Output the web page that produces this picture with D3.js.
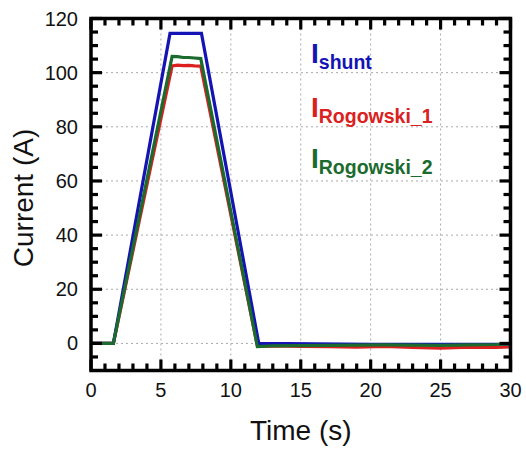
<!DOCTYPE html>
<html>
<head>
<meta charset="utf-8">
<script src="https://cdn.jsdelivr.net/npm/d3@7"></script>
</head>
<body style="margin:0">
<svg id="chart" width="526" height="453" font-family="Liberation Sans, Arial, sans-serif"></svg>
<script>
// Current waveforms: shunt reference vs. two Rogowski coils
const shuntTime = [0, 1.6, 5.65, 7.9, 12.0, 16, 20, 24, 28, 30];
const shuntCurrent = [0, 0, 114.5, 114.5, 0, -0.2, -0.3, -0.3, -0.3, -0.3];

const rogowski1Time = [0, 1.6, 5.8, 6.2, 6.6, 7.0, 7.4, 7.85, 11.9, 13, 15, 17, 19, 21, 23, 25, 27, 29, 30];
const rogowski1Current = [0, 0, 102.5, 102.8, 102.6, 102.7, 102.5, 102.4, -1.0, -0.9, -1.1, -1.2, -1.4, -1.1, -1.5, -1.7, -1.4, -1.5, -1.3];

const rogowski2Time = [0, 1.6, 5.8, 6.2, 6.6, 7.0, 7.4, 7.85, 11.9, 13, 15, 17, 19, 21, 23, 25, 27, 29, 30];
const rogowski2Current = [0, 0, 106.0, 105.9, 105.6, 105.6, 105.4, 105.2, -1.2, -0.9, -0.8, -0.7, -0.6, -0.5, -0.6, -0.7, -0.5, -0.4, -0.2];

const xMajorTicks = [0, 5, 10, 15, 20, 25, 30];
const yMajorTicks = [0, 20, 40, 60, 80, 100, 120];
const xAllTicks = d3.range(0, 31, 1);
const yAllTicks = d3.range(-5, 121, 5);

const colors = { shunt: "#1414b4", rog1: "#dc2020", rog2: "#1b6b2e" };

const svg = d3.select("#chart");
const plot = { left: 91, right: 510.5, top: 18.5, bottom: 370.5 };

const x = d3.scaleLinear().domain([0, 30]).range([plot.left, plot.right]);
const y = d3.scaleLinear().domain([-10, 120]).range([plot.bottom, plot.top]);

// dotted grid at major ticks
const grid = svg.append("g");
xMajorTicks.filter(d => d > 0 && d < 30).forEach(d => {
  grid.append("line").attr("x1", x(d)).attr("x2", x(d))
    .attr("y1", plot.top).attr("y2", plot.bottom)
    .attr("stroke", "#aaa").attr("stroke-width", 1).attr("stroke-dasharray", "2,3");
});
yMajorTicks.filter(d => d < 120).forEach(d => {
  grid.append("line").attr("y1", y(d)).attr("y2", y(d))
    .attr("x1", plot.left).attr("x2", plot.right)
    .attr("stroke", "#aaa").attr("stroke-width", 1).attr("stroke-dasharray", "2,3");
});

// series lines
const series = [
  { t: rogowski1Time, v: rogowski1Current, c: colors.rog1 },
  { t: shuntTime, v: shuntCurrent, c: colors.shunt },
  { t: rogowski2Time, v: rogowski2Current, c: colors.rog2 }
];
const line = d3.line().x(d => x(d[0])).y(d => y(d[1]));
series.forEach(s => {
  svg.append("path")
    .datum(s.t.map((t, i) => [t, s.v[i]]))
    .attr("fill", "none")
    .attr("stroke", s.c)
    .attr("stroke-width", 3.2)
    .attr("d", line);
});

// frame
svg.append("rect")
  .attr("x", plot.left).attr("y", plot.top)
  .attr("width", plot.right - plot.left).attr("height", plot.bottom - plot.top)
  .attr("fill", "none").attr("stroke", "#000").attr("stroke-width", 3.5);

// inward tick marks drawn as small filled bars on all four sides
const majorLen = 11, minorLen = 7, tickW = 3.2;
const tickG = svg.append("g").attr("fill", "#000");
const xLen = d => (d % 5 === 0 ? majorLen : minorLen);
const yLen = d => (d % 20 === 0 ? majorLen : minorLen);
tickG.selectAll("rect.xb").data(xAllTicks).join("rect").attr("class", "xb")
  .attr("x", d => x(d) - tickW / 2).attr("y", d => plot.bottom - xLen(d))
  .attr("width", tickW).attr("height", d => xLen(d));
tickG.selectAll("rect.xt").data(xAllTicks).join("rect").attr("class", "xt")
  .attr("x", d => x(d) - tickW / 2).attr("y", plot.top)
  .attr("width", tickW).attr("height", d => xLen(d));
tickG.selectAll("rect.yl").data(yAllTicks).join("rect").attr("class", "yl")
  .attr("x", plot.left).attr("y", d => y(d) - tickW / 2)
  .attr("width", d => yLen(d)).attr("height", tickW);
tickG.selectAll("rect.yr").data(yAllTicks).join("rect").attr("class", "yr")
  .attr("x", d => plot.right - yLen(d)).attr("y", d => y(d) - tickW / 2)
  .attr("width", d => yLen(d)).attr("height", tickW);

// tick labels
svg.append("g").selectAll("text").data(xMajorTicks).join("text")
  .attr("x", d => x(d)).attr("y", 397)
  .attr("text-anchor", "middle").attr("font-size", 20).attr("fill", "#111")
  .text(d => d);
svg.append("g").selectAll("text").data(yMajorTicks).join("text")
  .attr("x", 78).attr("y", d => y(d) + 7)
  .attr("text-anchor", "end").attr("font-size", 20).attr("fill", "#111")
  .text(d => d);

// axis titles
svg.append("text")
  .attr("x", (plot.left + plot.right) / 2).attr("y", 440)
  .attr("text-anchor", "middle").attr("font-size", 28).attr("fill", "#111")
  .text("Time (s)");
svg.append("text")
  .attr("transform", "translate(33,198) rotate(-90)")
  .attr("text-anchor", "middle").attr("font-size", 28).attr("fill", "#111")
  .text("Current (A)");

// legend labels with subscripts
const legend = [
  { main: "I", sub: "shunt", c: colors.shunt, y: 63 },
  { main: "I", sub: "Rogowski_1", c: colors.rog1, y: 117 },
  { main: "I", sub: "Rogowski_2", c: colors.rog2, y: 168 }
];
legend.forEach(l => {
  const t = svg.append("text")
    .attr("x", 311).attr("y", l.y)
    .attr("font-weight", "bold").attr("fill", l.c);
  t.append("tspan").attr("font-size", 28).text(l.main);
  t.append("tspan").attr("font-size", 19.5).attr("dy", 6).text(l.sub);
});
</script>
</body>
</html>
